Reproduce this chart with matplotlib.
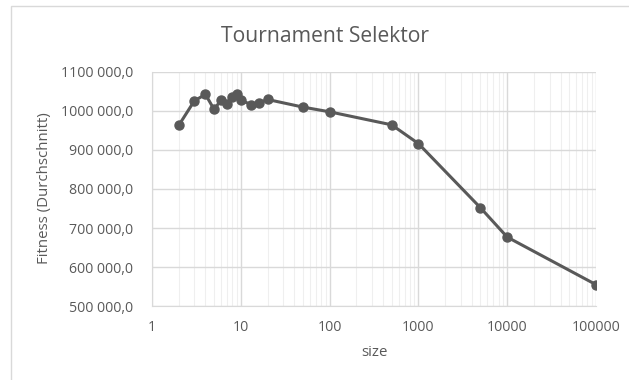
import matplotlib
matplotlib.use("Agg")
import matplotlib.pyplot as plt
from matplotlib.ticker import FixedLocator, LogLocator, NullFormatter
from matplotlib.patches import Rectangle

sizes = [2, 3, 4, 5, 6, 7, 8, 9, 10, 13, 16, 20, 50, 100, 500, 1000, 5000, 10000, 100000]
fitness = [962600, 1025600, 1042000, 1003600, 1027400, 1017200, 1035000, 1042000, 1027400,
           1016000, 1020500, 1029000, 1009500, 997400, 964100, 916200, 752000, 677000, 555400]
y_ticks = [500000, 600000, 700000, 800000, 900000, 1000000, 1100000]
y_tick_labels = ["500 000,0", "600 000,0", "700 000,0", "800 000,0", "900 000,0",
                 "1000 000,0", "1100 000,0"]
x_ticks = [1, 10, 100, 1000, 10000, 100000]
x_tick_labels = ["1", "10", "100", "1000", "10000", "100000"]

plt.rcParams['font.family'] = ['Open Sans', 'DejaVu Sans']
text_color = "#595959"

fig = plt.figure(figsize=(6.29, 3.80), dpi=100)
fig.patches.append(Rectangle((10.5/629, -0.1), 1.2, (380-6)/380 + 0.1, transform=fig.transFigure,
                             fill=False, edgecolor="#d9d9d9", linewidth=1.0))
ax = fig.add_axes([152/629, 1-306.3/380, (596-152)/629, (306.3-71.7)/380])

ax.plot(sizes, fitness, color="#595959", linewidth=2.2, marker="o", markersize=6.5, zorder=3)
ax.set_xscale("log")
ax.set_xlim(1, 100000)
ax.set_ylim(500000, 1100000)
ax.xaxis.set_major_locator(FixedLocator(x_ticks))
ax.set_xticklabels(x_tick_labels)
ax.xaxis.set_minor_locator(LogLocator(base=10, subs=range(2, 10)))
ax.xaxis.set_minor_formatter(NullFormatter())
ax.set_yticks(y_ticks)
ax.set_yticklabels(y_tick_labels)

ax.grid(True, which="major", color="#d9d9d9", linewidth=1.0, zorder=0)
ax.grid(True, which="minor", axis="x", color="#efefef", linewidth=0.8, zorder=0)
ax.set_axisbelow(True)
for s in ["top", "right"]:
    ax.spines[s].set_visible(False)
ax.spines["left"].set_color("#d9d9d9")
ax.spines["bottom"].set_color("#d9d9d9")
ax.tick_params(which="both", length=0, colors=text_color, labelsize=10.2)
ax.tick_params(axis="x", pad=10)
ax.tick_params(axis="y", pad=13.5)

fig.text(325/629, 1-37/380, "Tournament Selektor", ha="center", va="center",
         fontsize=15.2, color=text_color)
fig.text(374/629, 1-353/380, "size", ha="center", va="center",
         fontsize=10.8, color=text_color)
fig.text(45/629, 1-188.5/380, "Fitness (Durchschnitt)", ha="center", va="center",
         rotation=90, fontsize=10.8, color=text_color)

fig.savefig("out.png", dpi=100)
